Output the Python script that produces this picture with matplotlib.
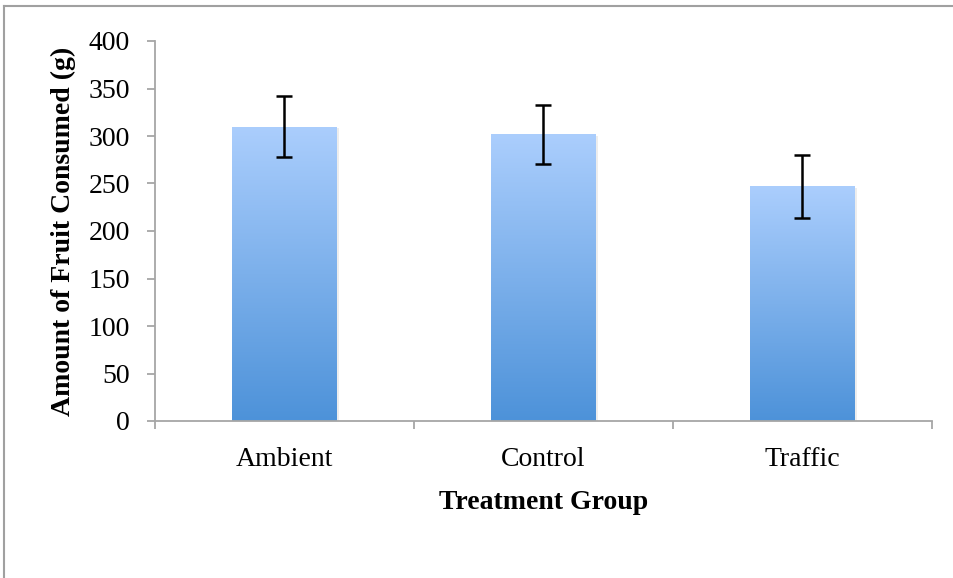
import numpy as np
import matplotlib
matplotlib.use("Agg")
import matplotlib.pyplot as plt
from matplotlib.colors import LinearSegmentedColormap
from matplotlib.lines import Line2D

# Mean fruit consumed per treatment group with error (g)
groups = ["Ambient", "Control", "Traffic"]
means = [310, 302, 247]
errors = [32.5, 31, 33.5]
y_ticks = [0, 50, 100, 150, 200, 250, 300, 350, 400]

plt.rcParams["font.family"] = ["Liberation Serif", "DejaVu Serif"]
fs = 20

fig = plt.figure(figsize=(9.54, 5.78), dpi=100)
ax = fig.add_axes([155 / 954, 1 - 421 / 578, (932 - 155) / 954, (421 - 41) / 578])

x = np.arange(len(groups))
bar_w = 0.405
bars = ax.bar(x, means, width=bar_w, color="none", edgecolor="none", zorder=2)

# vertical gradient fill clipped to each bar
grad = LinearSegmentedColormap.from_list("blu", ["#4d92d9", "#abcefd"])
ramp = np.linspace(0, 1, 256).reshape(-1, 1)
for b in bars:
    x0, y0 = b.get_x(), b.get_y()
    w, h = b.get_width(), b.get_height()
    # soft shadow behind the bar
    ax.bar(x0 + w / 2 + 0.008, h, width=w, bottom=y0 - 1.5, color="#000000",
           alpha=0.07, zorder=1.5, edgecolor="none")
    im = ax.imshow(ramp, cmap=grad, origin="lower", aspect="auto",
                   extent=[x0, x0 + w, y0, y0 + h], zorder=2, interpolation="bicubic")
    im.set_clip_path(b)

ax.errorbar(x, means, yerr=errors, fmt="none", ecolor="black", elinewidth=1.8,
            capsize=5.6, capthick=1.8, zorder=3)

ax.set_xlim(-0.5, len(groups) - 0.5)
ax.set_ylim(0, 400)
ax.set_yticks(y_ticks)

ax.set_xticks(x)
ax.set_xticklabels(groups)
ax.set_xticks(np.arange(-0.5, len(groups)), minor=True)

spine_c = "#a6a6a6"
for s in ["top", "right"]:
    ax.spines[s].set_visible(False)
for s in ["left", "bottom"]:
    ax.spines[s].set_color(spine_c)
    ax.spines[s].set_linewidth(1.3)

ax.tick_params(axis="y", which="major", length=6, width=1.3, color=spine_c,
               labelsize=fs, pad=12)
ax.tick_params(axis="x", which="major", length=0, labelsize=fs, pad=19)
ax.tick_params(axis="x", which="minor", length=6, width=1.3, color=spine_c)

ax.set_ylabel("Amount of Fruit Consumed (g)", fontsize=fs, fontweight="bold", labelpad=9)
ax.set_xlabel("Treatment Group", fontsize=fs, fontweight="bold", labelpad=13)

# outer chart frame (top and left edges)
fig.add_artist(Line2D([4 / 954, 4 / 954], [0, 1 - 6 / 578], transform=fig.transFigure,
                      color="#a0a0a0", lw=1.5))
fig.add_artist(Line2D([4 / 954, 1], [1 - 6 / 578, 1 - 6 / 578], transform=fig.transFigure,
                      color="#a0a0a0", lw=1.5))

fig.savefig("out.png", dpi=100)
